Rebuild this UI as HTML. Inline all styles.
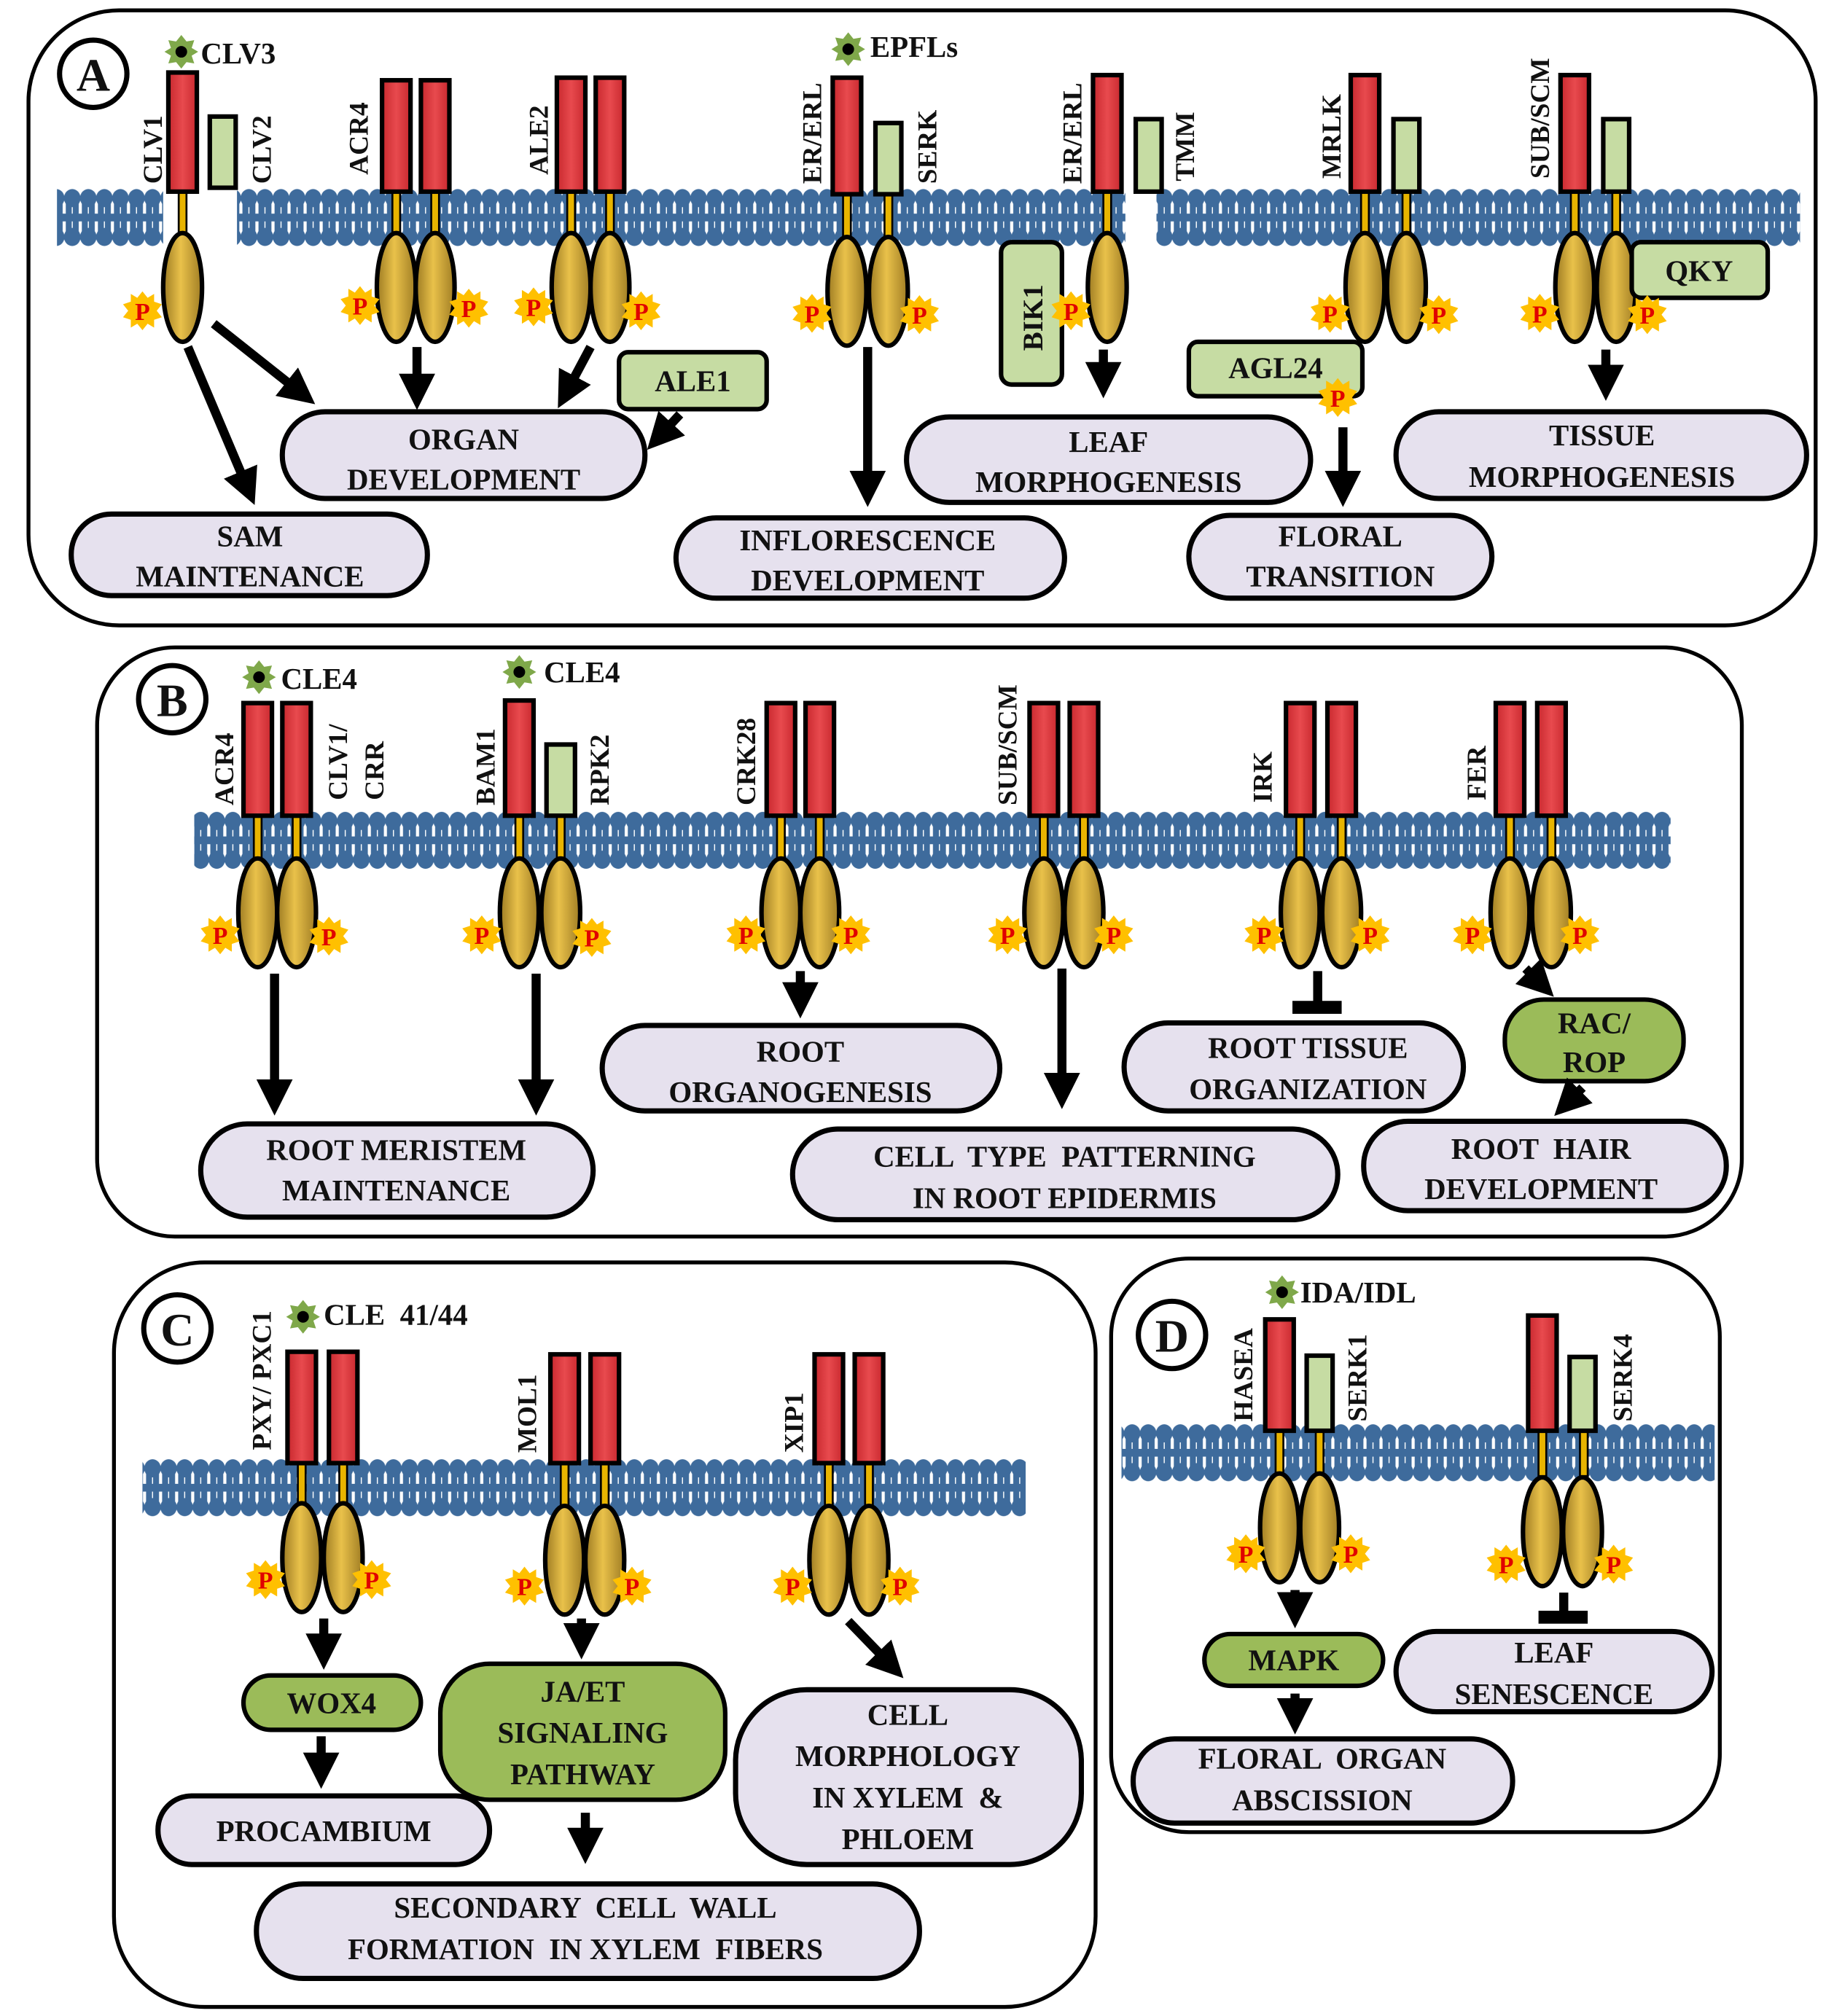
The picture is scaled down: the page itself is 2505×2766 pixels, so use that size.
<!DOCTYPE html>
<html><head><meta charset="utf-8"><style>
html,body{margin:0;padding:0;background:#fff}
svg{display:block}
text{font-family:"Liberation Serif",serif;font-weight:bold;fill:#111}
.pt{font-size:23px;text-anchor:middle}
.rl{font-size:21px}
.pp{font-size:19px;fill:#e00000;text-anchor:middle}
.lt{font-size:23px}
</style></head><body>
<svg width="2505" height="2766" viewBox="0 0 1410 1557" preserveAspectRatio="none" xmlns="http://www.w3.org/2000/svg">
<defs>
<linearGradient id="gold" x1="0" x2="1" y1="0" y2="0"><stop offset="0" stop-color="#9c7a22"/><stop offset="0.45" stop-color="#e9c14a"/><stop offset="1" stop-color="#a07d24"/></linearGradient>
<linearGradient id="red" x1="0" x2="1"><stop offset="0" stop-color="#c8282e"/><stop offset="0.5" stop-color="#e84a4e"/><stop offset="1" stop-color="#c8282e"/></linearGradient>
<g id="lip"><ellipse cx="6.2" cy="7" rx="6.4" ry="7"/><ellipse cx="6.2" cy="37" rx="6.4" ry="7"/><rect x="1.2" y="8" width="4.6" height="28"/><rect x="6.6" y="8" width="4.6" height="28"/><rect x="0" y="19" width="12.4" height="6"/></g>
<pattern id="memA" width="12.4" height="44" patternUnits="userSpaceOnUse" patternTransform="translate(0,146)"><use href="#lip" fill="#3e6b9c"/></pattern>
<pattern id="memB" width="12.4" height="44" patternUnits="userSpaceOnUse" patternTransform="translate(0,627)"><use href="#lip" fill="#3e6b9c"/></pattern>
<pattern id="memC" width="12.4" height="44" patternUnits="userSpaceOnUse" patternTransform="translate(0,1127)"><use href="#lip" fill="#3e6b9c"/></pattern>
<pattern id="memD" width="12.4" height="44" patternUnits="userSpaceOnUse" patternTransform="translate(0,1100)"><use href="#lip" fill="#3e6b9c"/></pattern>
<g id="ov"><ellipse cx="0" cy="0" rx="15" ry="42" fill="url(#gold)" stroke="#000" stroke-width="3.5"/></g>
<g id="ps"><polygon fill="#ffc000" points="0,-15 4,-10 9,-13 9,-7 15,-5 11,0 15,5 9,7 9,13 4,10 0,15 -4,10 -9,13 -9,7 -15,5 -11,0 -15,-5 -9,-7 -9,-13 -4,-10"/></g>
<g id="lg"><polygon fill="#7fa84a" points="0,-13 4,-8 10,-9 8,-3 13,0 8,3 10,9 4,8 0,13 -4,8 -10,9 -8,3 -13,0 -8,-3 -10,-9 -4,-8"/><circle r="4.5" fill="#000"/></g>
<marker id="ah" viewBox="0 0 10 10" markerWidth="4" markerHeight="4" refX="3" refY="5" orient="auto" markerUnits="strokeWidth"><path d="M0,0 L10,5 L0,10z" fill="#000"/></marker>
</defs>
<g fill="none" stroke="#000" stroke-width="3">
<rect x="22" y="8" width="1380" height="475" rx="70"/>
<rect x="75" y="500" width="1270" height="455" rx="60"/>
<rect x="88" y="975" width="758" height="575" rx="70"/>
<rect x="858" y="972" width="470" height="443" rx="60"/>
</g>
<!-- membranes -->
<rect x="44" y="146" width="82" height="44" fill="url(#memA)"/>
<rect x="183" y="146" width="686" height="44" fill="url(#memA)"/>
<rect x="893" y="146" width="497" height="44" fill="url(#memA)"/>
<rect x="150" y="627" width="1140" height="44" fill="url(#memB)"/>
<rect x="110" y="1127" width="682" height="44" fill="url(#memC)"/>
<rect x="866" y="1100" width="458" height="44" fill="url(#memD)"/>
<!-- panel letters -->
<g fill="#fff" stroke="#000" stroke-width="4">
<circle cx="72" cy="57" r="26"/><circle cx="133" cy="540" r="26"/><circle cx="137" cy="1026" r="26"/><circle cx="905" cy="1031" r="26"/></g>
<g style="font-size:36px" text-anchor="middle"><text x="72" y="70">A</text><text x="133" y="553">B</text><text x="137" y="1039">C</text><text x="905" y="1044">D</text></g>

<g fill="#e8b400" stroke="#000" stroke-width="1.5">
<rect x="138" y="147" width="6" height="36"/>
<rect x="303" y="147" width="6" height="36"/><rect x="333" y="147" width="6" height="36"/>
<rect x="438" y="147" width="6" height="36"/><rect x="468" y="147" width="6" height="36"/>
<rect x="651" y="149" width="6" height="36"/><rect x="683" y="149" width="6" height="36"/>
<rect x="852" y="147" width="6" height="36"/>
<rect x="1051" y="147" width="6" height="36"/><rect x="1083" y="147" width="6" height="36"/>
<rect x="1213" y="147" width="6" height="36"/><rect x="1245" y="147" width="6" height="36"/>
<rect x="196" y="629" width="6" height="36"/><rect x="226" y="629" width="6" height="36"/>
<rect x="398" y="629" width="6" height="36"/><rect x="430" y="629" width="6" height="36"/>
<rect x="600" y="629" width="6" height="36"/><rect x="630" y="629" width="6" height="36"/>
<rect x="803" y="629" width="6" height="36"/><rect x="834" y="629" width="6" height="36"/>
<rect x="1001" y="629" width="6" height="36"/><rect x="1033" y="629" width="6" height="36"/>
<rect x="1163" y="629" width="6" height="36"/><rect x="1195" y="629" width="6" height="36"/>
<rect x="230" y="1129" width="6" height="36"/><rect x="262" y="1129" width="6" height="36"/>
<rect x="433" y="1129" width="6" height="36"/><rect x="464" y="1129" width="6" height="36"/>
<rect x="637" y="1129" width="6" height="36"/><rect x="668" y="1129" width="6" height="36"/>
<rect x="985" y="1104" width="6" height="36"/><rect x="1016" y="1104" width="6" height="36"/>
<rect x="1188" y="1104" width="6" height="36"/><rect x="1220" y="1104" width="6" height="36"/>
</g>
<g fill="url(#red)" stroke="#000" stroke-width="3.5">
<rect x="130" y="56" width="22" height="92"/>
<rect x="295" y="62" width="22" height="86"/><rect x="325" y="62" width="22" height="86"/>
<rect x="430" y="60" width="22" height="88"/><rect x="460" y="60" width="22" height="88"/>
<rect x="643" y="60" width="22" height="90"/>
<rect x="844" y="58" width="22" height="90"/>
<rect x="1043" y="58" width="22" height="90"/>
<rect x="1205" y="58" width="22" height="90"/>
<rect x="188" y="543" width="22" height="87"/><rect x="218" y="543" width="22" height="87"/>
<rect x="390" y="541" width="22" height="89"/>
<rect x="592" y="543" width="22" height="87"/><rect x="622" y="543" width="22" height="87"/>
<rect x="795" y="543" width="22" height="87"/><rect x="826" y="543" width="22" height="87"/>
<rect x="993" y="543" width="22" height="87"/><rect x="1025" y="543" width="22" height="87"/>
<rect x="1155" y="543" width="22" height="87"/><rect x="1187" y="543" width="22" height="87"/>
<rect x="222" y="1044" width="22" height="86"/><rect x="254" y="1044" width="22" height="86"/>
<rect x="425" y="1046" width="22" height="84"/><rect x="456" y="1046" width="22" height="84"/>
<rect x="629" y="1046" width="22" height="84"/><rect x="660" y="1046" width="22" height="84"/>
<rect x="977" y="1019" width="22" height="86"/>
<rect x="1180" y="1016" width="22" height="89"/>
</g>
<g fill="#c6dca3" stroke="#000" stroke-width="3.5">
<rect x="162" y="90" width="20" height="55"/>
<rect x="676" y="95" width="20" height="55"/>
<rect x="877" y="92" width="20" height="56"/>
<rect x="1076" y="92" width="20" height="56"/>
<rect x="1238" y="92" width="20" height="56"/>
<rect x="422" y="575" width="22" height="55"/>
<rect x="1009" y="1047" width="20" height="58"/>
<rect x="1212" y="1048" width="20" height="57"/>
</g>
<use href="#ov" x="141" y="222"/>
<use href="#ov" x="306" y="222"/><use href="#ov" x="336" y="222"/>
<use href="#ov" x="441" y="222"/><use href="#ov" x="471" y="222"/>
<use href="#ov" x="654" y="225"/><use href="#ov" x="686" y="225"/>
<use href="#ov" x="855" y="222"/>
<use href="#ov" x="1054" y="222"/><use href="#ov" x="1086" y="222"/>
<use href="#ov" x="1216" y="222"/><use href="#ov" x="1248" y="222"/>
<use href="#ov" x="199" y="705"/><use href="#ov" x="229" y="705"/>
<use href="#ov" x="401" y="705"/><use href="#ov" x="433" y="705"/>
<use href="#ov" x="603" y="705"/><use href="#ov" x="633" y="705"/>
<use href="#ov" x="806" y="705"/><use href="#ov" x="837" y="705"/>
<use href="#ov" x="1004" y="705"/><use href="#ov" x="1036" y="705"/>
<use href="#ov" x="1166" y="705"/><use href="#ov" x="1198" y="705"/>
<use href="#ov" x="233" y="1203"/><use href="#ov" x="265" y="1203"/>
<use href="#ov" x="436" y="1205"/><use href="#ov" x="467" y="1205"/>
<use href="#ov" x="640" y="1205"/><use href="#ov" x="671" y="1205"/>
<use href="#ov" x="988" y="1180"/><use href="#ov" x="1019" y="1180"/>
<use href="#ov" x="1191" y="1183"/><use href="#ov" x="1222" y="1183"/>

<g stroke="#000" stroke-width="3.5">
<rect x="773" y="187" width="47" height="110" rx="8" fill="#c6dca3"/>
<rect x="478" y="272" width="114" height="44" rx="7" fill="#c6dca3"/>
<rect x="918" y="264" width="134" height="42" rx="7" fill="#c6dca3"/>
<rect x="1260" y="187" width="105" height="43" rx="7" fill="#c6dca3"/>
<rect x="1162" y="772" width="138" height="63" rx="30" fill="#9bbb59"/>
<rect x="188" y="1294" width="137" height="42" rx="21" fill="#9bbb59"/>
<rect x="340" y="1285" width="220" height="105" rx="38" fill="#9bbb59"/>
<rect x="930" y="1262" width="138" height="40" rx="20" fill="#9bbb59"/>
</g>
<g>
<use href="#ps" x="110" y="240"/><use href="#ps" x="278" y="236"/><use href="#ps" x="362" y="238"/>
<use href="#ps" x="412" y="237"/><use href="#ps" x="495" y="240"/>
<use href="#ps" x="627" y="242"/><use href="#ps" x="710" y="243"/>
<use href="#ps" x="827" y="240"/>
<use href="#ps" x="1027" y="242"/><use href="#ps" x="1111" y="243"/>
<use href="#ps" x="1033" y="307"/>
<use href="#ps" x="1189" y="242"/><use href="#ps" x="1272" y="243"/>
<use href="#ps" x="170" y="722"/><use href="#ps" x="254" y="723"/>
<use href="#ps" x="372" y="722"/><use href="#ps" x="457" y="724"/>
<use href="#ps" x="576" y="722"/><use href="#ps" x="657" y="722"/>
<use href="#ps" x="778" y="722"/><use href="#ps" x="860" y="722"/>
<use href="#ps" x="976" y="722"/><use href="#ps" x="1058" y="722"/>
<use href="#ps" x="1137" y="722"/><use href="#ps" x="1220" y="722"/>
<use href="#ps" x="205" y="1220"/><use href="#ps" x="287" y="1220"/>
<use href="#ps" x="405" y="1225"/><use href="#ps" x="488" y="1225"/>
<use href="#ps" x="612" y="1225"/><use href="#ps" x="695" y="1225"/>
<use href="#ps" x="962" y="1200"/><use href="#ps" x="1043" y="1200"/>
<use href="#ps" x="1163" y="1208"/><use href="#ps" x="1246" y="1208"/>
</g>
<g class="pp">
<text class="pp" x="110" y="247">P</text><text class="pp" x="278" y="243">P</text><text class="pp" x="362" y="245">P</text>
<text class="pp" x="412" y="244">P</text><text class="pp" x="495" y="247">P</text>
<text class="pp" x="627" y="249">P</text><text class="pp" x="710" y="250">P</text>
<text class="pp" x="827" y="247">P</text>
<text class="pp" x="1027" y="249">P</text><text class="pp" x="1111" y="250">P</text>
<text class="pp" x="1033" y="314">P</text>
<text class="pp" x="1189" y="249">P</text><text class="pp" x="1272" y="250">P</text>
<text class="pp" x="170" y="729">P</text><text class="pp" x="254" y="730">P</text>
<text class="pp" x="372" y="729">P</text><text class="pp" x="457" y="731">P</text>
<text class="pp" x="576" y="729">P</text><text class="pp" x="657" y="729">P</text>
<text class="pp" x="778" y="729">P</text><text class="pp" x="860" y="729">P</text>
<text class="pp" x="976" y="729">P</text><text class="pp" x="1058" y="729">P</text>
<text class="pp" x="1137" y="729">P</text><text class="pp" x="1220" y="729">P</text>
<text class="pp" x="205" y="1227">P</text><text class="pp" x="287" y="1227">P</text>
<text class="pp" x="405" y="1232">P</text><text class="pp" x="488" y="1232">P</text>
<text class="pp" x="612" y="1232">P</text><text class="pp" x="695" y="1232">P</text>
<text class="pp" x="962" y="1207">P</text><text class="pp" x="1043" y="1207">P</text>
<text class="pp" x="1163" y="1215">P</text><text class="pp" x="1246" y="1215">P</text>
</g>
<use href="#lg" x="140" y="40"/><text class="lt" x="155" y="49">CLV3</text>
<use href="#lg" x="655" y="38"/><text class="lt" x="672" y="44">EPFLs</text>
<use href="#lg" x="200" y="523"/><text class="lt" x="217" y="532">CLE4</text>
<use href="#lg" x="401" y="519"/><text class="lt" x="420" y="527">CLE4</text>
<use href="#lg" x="234" y="1017"/><text class="lt" x="250" y="1023" xml:space="preserve">CLE  41/44</text>
<use href="#lg" x="990" y="998"/><text class="lt" x="1004" y="1006">IDA/IDL</text>

<g class="rl">
<text transform="translate(125,142) rotate(-90)">CLV1</text>
<text transform="translate(209,142) rotate(-90)">CLV2</text>
<text transform="translate(284,135) rotate(-90)">ACR4</text>
<text transform="translate(423,135) rotate(-90)">ALE2</text>
<text transform="translate(634,142) rotate(-90)">ER/ERL</text>
<text transform="translate(723,142) rotate(-90)">SERK</text>
<text transform="translate(835,142) rotate(-90)">ER/ERL</text>
<text transform="translate(922,140) rotate(-90)">TMM</text>
<text transform="translate(1035,138) rotate(-90)">MRLK</text>
<text transform="translate(1196,138) rotate(-90)">SUB/SCM</text>
<text transform="translate(805,271) rotate(-90)" style="font-size:22px">BIK1</text>
<text transform="translate(180,622) rotate(-90)">ACR4</text>
<text transform="translate(268,618) rotate(-90)">CLV1/</text>
<text transform="translate(296,618) rotate(-90)">CRR</text>
<text transform="translate(382,622) rotate(-90)">BAM1</text>
<text transform="translate(470,622) rotate(-90)">RPK2</text>
<text transform="translate(583,622) rotate(-90)">CRK28</text>
<text transform="translate(785,622) rotate(-90)">SUB/SCM</text>
<text transform="translate(982,620) rotate(-90)">IRK</text>
<text transform="translate(1147,618) rotate(-90)">FER</text>
<text transform="translate(209,1120) rotate(-90)">PXY/ PXC1</text>
<text transform="translate(414,1122) rotate(-90)">MOL1</text>
<text transform="translate(620,1122) rotate(-90)">XIP1</text>
<text transform="translate(967,1098) rotate(-90)">HASEA</text>
<text transform="translate(1055,1098) rotate(-90)">SERK1</text>
<text transform="translate(1260,1098) rotate(-90)">SERK4</text>
</g>
<g class="pt">
<text x="535" y="302">ALE1</text>
<text x="985" y="292">AGL24</text>
<text x="1312" y="217">QKY</text>
<text x="1231" y="798">RAC/</text><text x="1231" y="828">ROP</text>
<text x="256" y="1323">WOX4</text>
<text x="450" y="1314">JA/ET</text><text x="450" y="1346">SIGNALING</text><text x="450" y="1378">PATHWAY</text>
<text x="999" y="1290">MAPK</text>
</g>

<g stroke="#000" stroke-width="7" fill="none" marker-end="url(#ah)">
<line x1="145" y1="268" x2="189" y2="372"/>
<line x1="165" y1="250" x2="228" y2="300"/>
<line x1="322" y1="268" x2="322" y2="297"/>
<line x1="456" y1="268" x2="440" y2="298"/>
<line x1="525" y1="320" x2="513" y2="333"/>
<line x1="670" y1="268" x2="670" y2="372"/>
<line x1="852" y1="270" x2="852" y2="288"/>
<line x1="1037" y1="330" x2="1037" y2="372"/>
<line x1="1240" y1="270" x2="1240" y2="290"/>
<line x1="212" y1="752" x2="212" y2="842"/>
<line x1="414" y1="752" x2="414" y2="842"/>
<line x1="618" y1="750" x2="618" y2="767"/>
<line x1="820" y1="748" x2="820" y2="837"/>
<line x1="1178" y1="748" x2="1186" y2="756"/>
<line x1="1222" y1="840" x2="1214" y2="848"/>
<line x1="250" y1="1250" x2="250" y2="1270"/>
<line x1="248" y1="1341" x2="248" y2="1362"/>
<line x1="449" y1="1250" x2="449" y2="1262"/>
<line x1="452" y1="1400" x2="452" y2="1420"/>
<line x1="655" y1="1252" x2="684" y2="1282"/>
<line x1="1000" y1="1228" x2="1000" y2="1238"/>
<line x1="1000" y1="1308" x2="1000" y2="1320"/>
</g>
<g fill="#000">
<rect x="1014" y="750" width="7" height="28"/><rect x="998" y="773" width="38" height="10"/>
<rect x="1204" y="1230" width="7" height="18"/><rect x="1188" y="1244" width="38" height="10"/>
</g>

<g fill="#e6e1ee" stroke="#000" stroke-width="4">
<rect x="218" y="318" width="280" height="67" rx="33"/>
<rect x="55" y="397" width="275" height="63" rx="31"/>
<rect x="522" y="400" width="300" height="62" rx="31"/>
<rect x="700" y="322" width="312" height="66" rx="33"/>
<rect x="918" y="398" width="234" height="64" rx="32"/>
<rect x="1078" y="318" width="317" height="67" rx="33"/>
<rect x="155" y="868" width="303" height="72" rx="36"/>
<rect x="465" y="792" width="307" height="66" rx="33"/>
<rect x="612" y="872" width="421" height="70" rx="35"/>
<rect x="868" y="790" width="262" height="68" rx="34"/>
<rect x="1053" y="866" width="280" height="69" rx="34"/>
<rect x="122" y="1387" width="256" height="53" rx="26"/>
<rect x="198" y="1455" width="512" height="73" rx="36"/>
<rect x="568" y="1305" width="267" height="135" rx="55"/>
<rect x="875" y="1343" width="293" height="65" rx="32"/>
<rect x="1078" y="1260" width="244" height="62" rx="31"/>
</g>
<g class="pt">
<text x="358" y="347">ORGAN</text><text x="358" y="378">DEVELOPMENT</text>
<text x="193" y="422">SAM</text><text x="193" y="453">MAINTENANCE</text>
<text x="670" y="425">INFLORESCENCE</text><text x="670" y="456">DEVELOPMENT</text>
<text x="856" y="349">LEAF</text><text x="856" y="380">MORPHOGENESIS</text>
<text x="1035" y="422">FLORAL</text><text x="1035" y="453">TRANSITION</text>
<text x="1237" y="344">TISSUE</text><text x="1237" y="376">MORPHOGENESIS</text>
<text x="306" y="896">ROOT MERISTEM</text><text x="306" y="927">MAINTENANCE</text>
<text x="618" y="820">ROOT</text><text x="618" y="851">ORGANOGENESIS</text>
<text x="822" y="901" xml:space="preserve">CELL  TYPE  PATTERNING</text><text x="822" y="933">IN ROOT EPIDERMIS</text>
<text x="1010" y="817">ROOT TISSUE</text><text x="1010" y="849">ORGANIZATION</text>
<text x="1190" y="895" xml:space="preserve">ROOT  HAIR</text><text x="1190" y="926">DEVELOPMENT</text>
<text x="250" y="1422">PROCAMBIUM</text>
<text x="452" y="1481" xml:space="preserve">SECONDARY  CELL  WALL</text><text x="452" y="1513" xml:space="preserve">FORMATION  IN XYLEM  FIBERS</text>
<text x="701" y="1332">CELL</text><text x="701" y="1364">MORPHOLOGY</text><text x="701" y="1396" xml:space="preserve">IN XYLEM  &amp;</text><text x="701" y="1428">PHLOEM</text>
<text x="1021" y="1366" xml:space="preserve">FLORAL  ORGAN</text><text x="1021" y="1398">ABSCISSION</text>
<text x="1200" y="1284">LEAF</text><text x="1200" y="1316">SENESCENCE</text>
</g>
</svg>
</body></html>
